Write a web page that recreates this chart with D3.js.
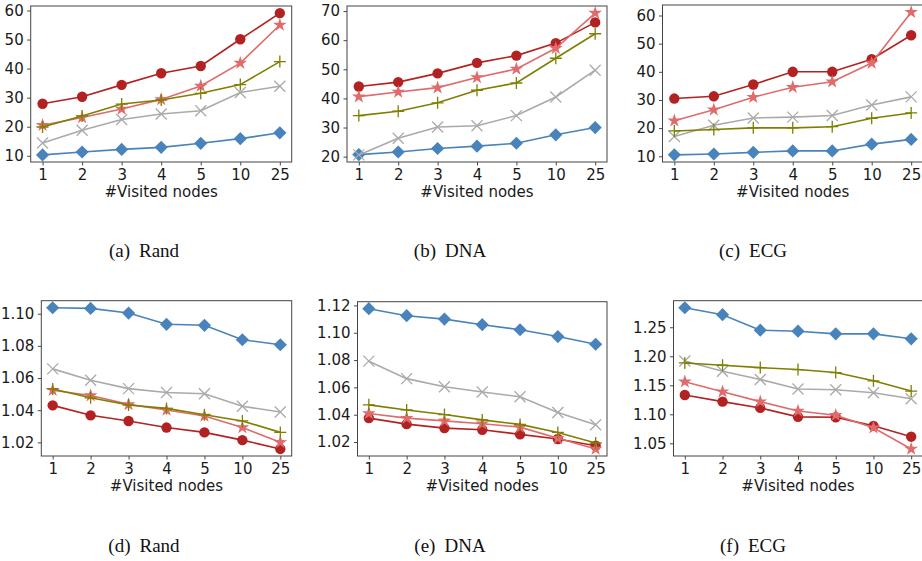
<!DOCTYPE html>
<html>
<head>
<meta charset="utf-8">
<script src="https://cdn.jsdelivr.net/npm/d3@7"></script>
<style>
  html, body { margin: 0; padding: 0; background: #fff; }
  svg { display: block; }
  .tick text { font-family: "DejaVu Sans", sans-serif; }
</style>
</head>
<body>
<script>
// x categories: number of visited nodes
const visited = ["1", "2", "3", "4", "5", "10", "25"];

// (a) Rand, upper metric
const aCircle  = [27.9, 30.3, 34.4, 38.4, 40.9, 50.1, 59.1];
const aStar    = [20.5, 23.2, 26.1, 29.4, 34.0, 41.9, 55.0];
const aPlus    = [19.9, 23.7, 27.8, 29.2, 31.5, 34.5, 42.4];
const aCross   = [14.4, 18.8, 22.5, 24.4, 25.5, 31.8, 33.9];
const aDiamond = [10.3, 11.3, 12.2, 12.9, 14.3, 15.9, 17.9];

// (b) DNA, upper metric
const bCircle  = [44.1, 45.6, 48.6, 52.2, 54.7, 59.0, 66.1];
const bStar    = [40.6, 42.2, 43.7, 47.2, 50.1, 57.2, 69.3];
const bPlus    = [34.1, 35.6, 38.5, 42.8, 45.3, 53.8, 62.2];
const bCross   = [20.6, 26.3, 30.2, 30.6, 34.1, 40.5, 49.7];
const bDiamond = [20.7, 21.6, 22.8, 23.6, 24.6, 27.5, 30.0];

// (c) ECG, upper metric
const cCircle  = [30.5, 31.3, 35.5, 40.0, 40.0, 44.5, 53.0];
const cStar    = [22.6, 26.5, 31.0, 34.5, 36.5, 43.1, 61.2];
const cPlus    = [19.0, 19.5, 20.1, 20.1, 20.5, 23.5, 25.4];
const cCross   = [17.0, 21.0, 23.6, 23.9, 24.5, 28.2, 31.1];
const cDiamond = [10.5, 10.8, 11.4, 11.9, 11.9, 14.3, 16.0];

// (d) Rand, lower metric
const dCircle  = [1.0430, 1.0368, 1.0333, 1.0292, 1.0262, 1.0214, 1.0159];
const dStar    = [1.0524, 1.0491, 1.0436, 1.0401, 1.0364, 1.0292, 1.0200];
const dPlus    = [1.0532, 1.0477, 1.0432, 1.0411, 1.0372, 1.0333, 1.0262];
const dCross   = [1.0657, 1.0586, 1.0534, 1.0510, 1.0502, 1.0424, 1.0389];
const dDiamond = [1.1037, 1.1033, 1.1004, 1.0934, 1.0928, 1.0838, 1.0807];

// (e) DNA, lower metric
const eCircle  = [1.0375, 1.0331, 1.0302, 1.0290, 1.0256, 1.0222, 1.0173];
const eStar    = [1.0409, 1.0375, 1.0355, 1.0334, 1.0309, 1.0227, 1.0149];
const ePlus    = [1.0472, 1.0435, 1.0401, 1.0362, 1.0329, 1.0270, 1.0193];
const eCross   = [1.0792, 1.0664, 1.0605, 1.0566, 1.0532, 1.0416, 1.0326];
const eDiamond = [1.1176, 1.1125, 1.1100, 1.1059, 1.1022, 1.0972, 1.0916];

// (f) ECG, lower metric
const fCircle  = [1.1332, 1.1218, 1.1110, 1.0956, 1.0950, 1.0801, 1.0614];
const fStar    = [1.1560, 1.1389, 1.1218, 1.1058, 1.0984, 1.0768, 1.0403];
const fPlus    = [1.1885, 1.1845, 1.1805, 1.1771, 1.1719, 1.1577, 1.1400];
const fCross   = [1.1919, 1.1742, 1.1600, 1.1435, 1.1424, 1.1372, 1.1269];
const fDiamond = [1.2836, 1.2717, 1.2449, 1.2432, 1.2386, 1.2386, 1.2301];

// y tick values per panel
const ticksA = [10, 20, 30, 40, 50, 60];
const ticksB = [20, 30, 40, 50, 60, 70];
const ticksC = [10, 20, 30, 40, 50, 60];
const ticksD = [1.02, 1.04, 1.06, 1.08, 1.10];
const ticksE = [1.02, 1.04, 1.06, 1.08, 1.10, 1.12];
const ticksF = [1.05, 1.10, 1.15, 1.20, 1.25];

const captionTags = ["(a)", "(b)", "(c)", "(d)", "(e)", "(f)"];
const datasetNames = ["Rand", "DNA", "ECG", "Rand", "DNA", "ECG"];

// ---- drawing ----
const W = 922, H = 561;
const FS = 15;
const svg = d3.select("body").append("svg").attr("width", W).attr("height", H);

const styles = {
  diamond: { color: "#4883bb", shape: "diamond" },
  cross:   { color: "#aaaaaa", shape: "cross" },
  circle:  { color: "#b32222", shape: "circle" },
  star:    { color: "#df6b6c", shape: "star" },
  plus:    { color: "#7f7f00", shape: "plus" }
};

const panels = [
  { tag: 0, frame: { l: 30.7,  r: 291.7, t: 6,     b: 162 }, ticks: ticksA, fmt: d3.format("d"),
    series: { diamond: aDiamond, cross: aCross, circle: aCircle, star: aStar, plus: aPlus } },
  { tag: 1, frame: { l: 347,   r: 607,   t: 6,     b: 162 }, ticks: ticksB, fmt: d3.format("d"),
    series: { diamond: bDiamond, cross: bCross, circle: bCircle, star: bStar, plus: bPlus } },
  { tag: 2, frame: { l: 662.5, r: 923,   t: 5,     b: 162 }, ticks: ticksC, fmt: d3.format("d"),
    series: { diamond: cDiamond, cross: cCross, circle: cCircle, star: cStar, plus: cPlus } },
  { tag: 3, frame: { l: 41.3,  r: 291.7, t: 300.7, b: 456 }, ticks: ticksD, fmt: d3.format(".2f"),
    series: { diamond: dDiamond, cross: dCross, circle: dCircle, star: dStar, plus: dPlus } },
  { tag: 4, frame: { l: 357.5, r: 607,   t: 301.7, b: 456 }, ticks: ticksE, fmt: d3.format(".2f"),
    series: { diamond: eDiamond, cross: eCross, circle: eCircle, star: eStar, plus: ePlus } },
  { tag: 5, frame: { l: 673.5, r: 922.5, t: 300.7, b: 456 }, ticks: ticksF, fmt: d3.format(".2f"),
    series: { diamond: fDiamond, cross: fCross, circle: fCircle, star: fStar, plus: fPlus } }
];

const captionX = [144, 450, 753, 144, 450, 753];
const captionY = [257, 257, 257, 552, 552, 552];
const order = ["diamond", "cross", "circle", "star", "plus"];

function starPath(R) {
  const r = R * 0.382;
  const pts = [];
  for (let i = 0; i < 10; i++) {
    const rad = i % 2 === 0 ? R : r;
    const a = -Math.PI / 2 + i * Math.PI / 5;
    pts.push([rad * Math.cos(a), rad * Math.sin(a)]);
  }
  return "M" + pts.map(p => p[0].toFixed(2) + "," + p[1].toFixed(2)).join("L") + "Z";
}

function drawMarker(g, shape, color) {
  switch (shape) {
    case "circle":
      g.append("circle").attr("r", 5.2).attr("fill", color);
      break;
    case "diamond":
      g.append("path").attr("d", "M0,-6.6L6.6,0L0,6.6L-6.6,0Z").attr("fill", color);
      break;
    case "star":
      g.append("path").attr("d", starPath(7.2)).attr("fill", color);
      break;
    case "plus":
      g.append("path").attr("d", "M-6,0H6M0,-6V6").attr("stroke", color).attr("stroke-width", 1.3);
      break;
    case "cross":
      g.append("path").attr("d", "M-5.5,-5.5L5.5,5.5M-5.5,5.5L5.5,-5.5").attr("stroke", color).attr("stroke-width", 1.3);
      break;
  }
}

panels.forEach(p => {
  const f = p.frame;
  const all = order.flatMap(k => p.series[k]);
  const [lo, hi] = d3.extent(all);
  const pad = (hi - lo) * 0.05;

  const x = d3.scalePoint().domain(visited).range([f.l, f.r]).padding(0.3);
  const y = d3.scaleLinear().domain([lo - pad, hi + pad]).range([f.b, f.t]);

  const g = svg.append("g");

  // y axis
  const yAxis = g.append("g").attr("transform", `translate(${f.l},0)`)
    .call(d3.axisLeft(y).tickValues(p.ticks).tickFormat(p.fmt).tickSize(3.5).tickPadding(3.5));
  yAxis.select(".domain").remove();
  yAxis.selectAll(".tick line").attr("stroke", "#333").attr("stroke-width", 0.9);
  yAxis.selectAll(".tick text").attr("font-size", FS).attr("fill", "#1a1a1a");

  // x axis
  const xAxis = g.append("g").attr("transform", `translate(0,${f.b})`)
    .call(d3.axisBottom(x).tickSize(3.5).tickPadding(3.5));
  xAxis.select(".domain").remove();
  xAxis.selectAll(".tick line").attr("stroke", "#333").attr("stroke-width", 0.9);
  xAxis.selectAll(".tick text").attr("font-size", FS).attr("fill", "#1a1a1a");

  g.append("text")
    .attr("x", (x(visited[0]) + x(visited[visited.length - 1])) / 2)
    .attr("y", f.b + 34.5)
    .attr("text-anchor", "middle")
    .attr("font-family", "DejaVu Sans, sans-serif")
    .attr("font-size", FS)
    .attr("fill", "#1a1a1a")
    .text("#Visited nodes");

  // series
  const line = d3.line().x((d, i) => x(visited[i])).y(d => y(d));
  order.forEach(k => {
    const st = styles[k];
    const vals = p.series[k];
    const sg = g.append("g");
    sg.append("path").datum(vals).attr("d", line)
      .attr("fill", "none").attr("stroke", st.color).attr("stroke-width", 1.6);
    vals.forEach((v, i) => {
      const m = sg.append("g").attr("transform", `translate(${x(visited[i])},${y(v)})`);
      drawMarker(m, st.shape, st.color);
    });
  });

  // frame
  g.append("rect")
    .attr("x", f.l).attr("y", f.t).attr("width", f.r - f.l).attr("height", f.b - f.t)
    .attr("fill", "none").attr("stroke", "#444").attr("stroke-width", 1);

  // caption
  const cap = svg.append("text")
    .attr("x", captionX[p.tag]).attr("y", captionY[p.tag])
    .attr("text-anchor", "middle")
    .attr("font-family", "Liberation Serif, serif")
    .attr("font-size", 19)
    .attr("fill", "#111");
  cap.append("tspan").text(captionTags[p.tag]);
  cap.append("tspan").attr("dx", 9).text(datasetNames[p.tag]);
});
</script>
</body>
</html>
